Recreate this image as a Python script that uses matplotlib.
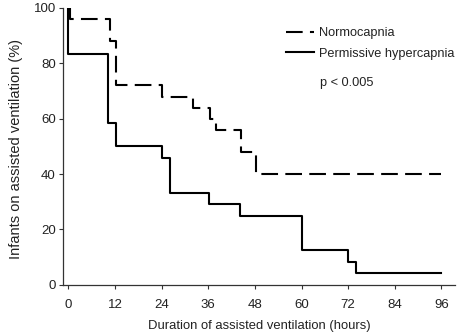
import matplotlib
matplotlib.use("Agg")
import matplotlib.pyplot as plt

# Kaplan-Meier style step data
normo_hours = [0, 0, 0.4, 10.7, 12.2, 24.2, 32.2, 36.4, 38.1, 44.4, 48.2, 96]
normo_pct = [100, 100, 96, 88, 72, 68, 64, 60, 56, 48, 40, 40]

hyper_hours = [0, 0, 10.2, 12.2, 24.1, 26.1, 36.2, 44.1, 60.2, 72.0, 73.9, 96]
hyper_pct = [100, 83.3, 58.3, 50.0, 45.8, 33.3, 29.2, 25.0, 12.5, 8.3, 4.2, 4.2]

x_ticks = [0, 12, 24, 36, 48, 60, 72, 84, 96]
y_ticks = [0, 20, 40, 60, 80, 100]

TICKSIZE = 9.5
LABELSIZE = 9.4
LEGENDSIZE = 9.2
TEXT_COLOR = "#222222"

plt.rcParams["font.family"] = ["Liberation Sans", "DejaVu Sans"]

fig = plt.figure(figsize=(4.62, 3.32), dpi=100)
ax = fig.add_axes([0.136, 0.142, 0.849, 0.834])

ax.step(normo_hours, normo_pct, where="post", color="black", linewidth=1.5,
        dashes=(8, 3.5), label="Normocapnia")
ax.step(hyper_hours, hyper_pct, where="post", color="black", linewidth=1.5,
        label="Permissive hypercapnia")

ax.set_xlim(-1.4, 99.5)
ax.set_ylim(0, 100)
ax.set_xticks(x_ticks)
ax.set_yticks(y_ticks)

for side in ("top", "right"):
    ax.spines[side].set_visible(False)
for side in ("left", "bottom"):
    ax.spines[side].set_color("#333333")
    ax.spines[side].set_linewidth(0.9)

ax.tick_params(axis="both", direction="out", length=3, width=0.8, color="#333333",
               labelsize=TICKSIZE, labelcolor=TEXT_COLOR)
ax.tick_params(axis="x", pad=7.5)
ax.tick_params(axis="y", pad=2)

ax.set_xlabel("Duration of assisted ventilation (hours)", fontsize=LABELSIZE,
              color=TEXT_COLOR, labelpad=6)
ax.set_ylabel("Infants on assisted ventilation (%)", fontsize=10.5, color=TEXT_COLOR)
ax.yaxis.set_label_coords(-0.102, 0.49)

ax.legend(loc="upper left", bbox_to_anchor=(0.553, 0.953), frameon=False, borderpad=0,
          fontsize=LEGENDSIZE, handlelength=2.2, handletextpad=0.4, labelspacing=0.65,
          labelcolor=TEXT_COLOR)

ax.text(0.655, 0.729, "p < 0.005", transform=ax.transAxes, fontsize=LEGENDSIZE,
        color=TEXT_COLOR, va="center", ha="left")

fig.savefig("out.png", dpi=100)
